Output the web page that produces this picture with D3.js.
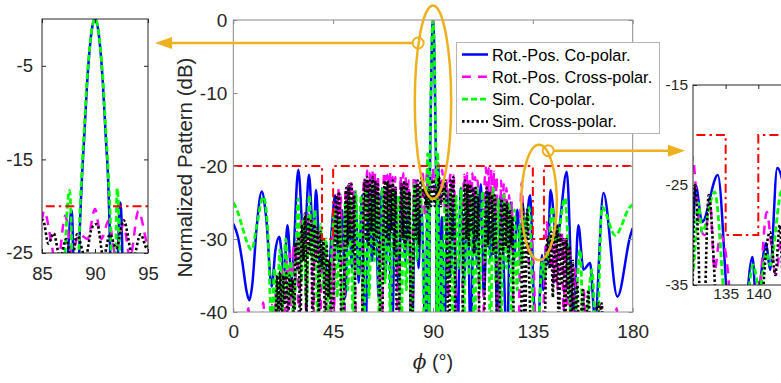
<!DOCTYPE html>
<html>
<head>
<meta charset="utf-8">
<script src="https://d3js.org/d3.v7.min.js"></script>
<style>
  body { margin: 0; background: #fff; }
  svg { font-family: "Liberation Sans", Arial, sans-serif; }
</style>
</head>
<body>
<svg id="chart" width="781" height="383"></svg>
<script>
// ---- data: [phi (deg), normalized pattern (dB)] ----
var rotCo = [[0,-27.9],[2,-29.6],[4,-33],[6,-37.2],[7.2,-38.4],[8.5,-36.4],[10.5,-28.5],[12.8,-23.5],[14.8,-27],[17.3,-36.5],[19,-31.5],[20.7,-29.7],[22.9,-34.7],[24.4,-28.1],[26.3,-35.5],[29.3,-20.5],[31.9,-31.5],[34.1,-21.2],[36.1,-30.1],[37.3,-23.3],[39.1,-33.6],[41,-31.9],[42.8,-36.5],[44.3,-29],[45.9,-24],[47.5,-33],[49,-26],[50.5,-38],[52,-25],[53.5,-34],[55,-23.5],[56.5,-36],[58,-24],[59.5,-45],[61,-23],[62.5,-33],[64,-22.5],[65.5,-38],[67,-23],[68.5,-35],[70,-24],[71.5,-45],[73,-23],[74.5,-37],[76,-22.5],[77.5,-33],[79,-25],[80.5,-45],[82,-22],[83.5,-34],[84.5,-25],[85.5,-31],[86.6,-45],[87.8,-20.4],[88.3,-45],[88.5,-26],[88.75,-17.5],[89,-12.3],[89.25,-7],[89.5,-3.2],[89.75,-0.8],[90,0],[90.25,-0.8],[90.5,-3.2],[90.75,-7],[91,-12.3],[91.25,-17.5],[91.45,-26],[91.65,-45],[92.4,-19.6],[93,-45],[94,-27],[95,-45],[96.5,-24],[98,-35],[99.5,-25],[101,-45],[102.5,-23],[104,-36],[105.5,-24],[107,-45],[108.5,-23],[110,-34],[111.5,-22.5],[113,-38],[114.5,-23],[116,-33],[117.5,-24],[119,-41],[120.5,-24],[122,-35],[123.3,-45],[125,-25],[126.5,-33],[128,-26],[129.5,-33],[130,-28.8],[130.4,-25],[131.4,-28.7],[133.8,-24],[135.4,-38],[137,-45],[139.1,-32.2],[139.7,-37],[141.2,-30.8],[141.8,-33.5],[142.9,-23.3],[145.8,-30],[150.3,-20.8],[153.3,-41],[155.5,-28.1],[157.8,-34.2],[160.8,-33.3],[163,-41],[166.8,-23.7],[173.1,-37.9],[178.8,-29.7],[180,-28.5]];

var rotCross = [[0,-45],[5,-45],[6.8,-39.5],[8.2,-45],[12,-45],[13.5,-38.7],[14.7,-45],[16.5,-45],[17.5,-39],[18.3,-45],[19.2,-37],[20,-45],[20.8,-36],[21.6,-42],[22.4,-34],[23.2,-41],[24,-33],[24.8,-40],[25.6,-32],[26.4,-45],[27.2,-31],[28,-36],[28.8,-29],[29.6,-45],[30.4,-27.5],[31.2,-33],[32,-27],[32.8,-40],[33.6,-26.2],[34.4,-31],[35.2,-27],[36,-45],[36.8,-27.5],[37.6,-32],[38.4,-28.5],[39.2,-42],[40,-31],[40.8,-37],[41.6,-32],[42.4,-45],[43.2,-33],[44,-40],[44.8,-29],[45.4,-40],[46.1,-25],[46.7,-30],[47.3,-23],[47.9,-28],[48.5,-24],[49.2,-45],[50,-45],[50.6,-23],[51.2,-27],[51.8,-22.5],[52.4,-28],[53,-22],[53.6,-29],[54.2,-23],[54.9,-36],[55.6,-45],[57.8,-45],[58.5,-24],[59.1,-21.5],[59.7,-26],[60.3,-20.6],[60.9,-27],[61.5,-21],[62.1,-26],[62.7,-20.5],[63.3,-27],[63.9,-21],[64.5,-26],[65.1,-21.5],[65.8,-30],[66.4,-45],[67,-45],[67.6,-23],[68.2,-20.8],[68.8,-26],[69.4,-21.2],[70,-27],[70.6,-20.7],[71.2,-26],[71.8,-21.5],[72.4,-27],[73,-21.5],[73.7,-33],[74.3,-45],[74.8,-40],[75.4,-21.3],[76,-26],[76.6,-21],[77.2,-27],[77.8,-21.5],[78.4,-26],[79,-22],[79.7,-34],[80.3,-45],[80.8,-33],[81.4,-21.5],[82,-27],[82.6,-22],[83.2,-28],[83.8,-22.5],[84.4,-27],[85.2,-20.5],[85.9,-24],[86.4,-27],[87.2,-21],[87.8,-25],[88.5,-23],[89.3,-23.5],[90,-20.3],[90.6,-23.5],[91.3,-21.5],[91.9,-25],[92.7,-22],[93.3,-25.5],[94.1,-20.5],[94.9,-24],[95.6,-26],[96.3,-22],[96.9,-38],[97.5,-22],[98.1,-21],[98.7,-26],[99.3,-21.3],[99.9,-27],[100.6,-45],[103,-45],[103.6,-24],[104.2,-21.2],[104.8,-26],[105.4,-21],[106,-27],[106.6,-21.5],[107.2,-26],[107.8,-21],[108.4,-28],[109,-21.5],[109.6,-27],[110.2,-22],[110.9,-45],[112.6,-45],[113.3,-22],[113.9,-20.2],[114.5,-25],[115.1,-20.3],[115.7,-26],[116.3,-20.5],[116.9,-25],[117.5,-20.8],[118.1,-27],[118.7,-21.5],[119.4,-45],[120.2,-36],[120.7,-22],[121.3,-27],[121.9,-22.5],[122.5,-28],[123.1,-23],[123.7,-29],[124.3,-24],[124.9,-28],[125.5,-25],[126.2,-40],[126.8,-45],[128.5,-45],[129.3,-28],[130,-22.3],[130.4,-25],[131,-29],[131.8,-30],[132.6,-26.7],[133.3,-33.5],[134.2,-30],[135.4,-34],[136.5,-45],[139,-45],[140.3,-35],[141.3,-27.7],[142,-31],[142.7,-34],[143.6,-30],[144.4,-36],[145.2,-30.5],[146,-37],[147,-30],[148,-28.8],[148.8,-40],[149.8,-30],[150.6,-45],[151.6,-31],[152.6,-45],[154,-34],[155,-45],[157,-45],[158,-37],[159,-45],[163,-45],[165,-38.8],[166.5,-45],[171.5,-45],[172.8,-39.5],[174,-45],[180,-45]];

var simCo = [[0,-25],[2,-26.3],[4,-28.3],[6,-30.3],[8.3,-31.5],[10.5,-28.3],[13.5,-24.2],[15.5,-28.5],[17.3,-42],[18.6,-34],[19.6,-41],[21,-31.5],[22.2,-40],[23.6,-30],[24.8,-38],[26,-33],[27.2,-42],[29.2,-24.5],[30.6,-36],[31.8,-27],[33,-39],[34.2,-24],[35.5,-33],[36.8,-26],[38,-41],[39.3,-28],[40.6,-37],[41.8,-30],[43,-43],[44.4,-31],[45.6,-26],[46.8,-38],[48,-27],[49.2,-45],[50.4,-25],[51.6,-37],[52.8,-24.5],[54,-42],[55.2,-23.5],[56.4,-35],[57.6,-24],[58.8,-45],[60,-23.5],[61.2,-38],[62.4,-23],[63.6,-33],[64.8,-24],[66,-44],[67.2,-23],[68.4,-36],[69.6,-24],[70.8,-41],[72,-23.5],[73.2,-34],[74.4,-24],[75.6,-45],[76.8,-23],[78,-37],[79.2,-24],[80.4,-42],[81.6,-22.5],[82.8,-33],[84,-23],[85.2,-29],[86.3,-45],[87.6,-18.3],[88.25,-45],[88.5,-24],[88.75,-16.5],[89,-11.5],[89.25,-6.5],[89.5,-3],[89.75,-0.75],[90,0],[90.25,-0.75],[90.5,-3],[90.75,-6.5],[91,-11.5],[91.25,-16.5],[91.5,-24],[91.7,-45],[92.1,-18.1],[92.8,-45],[93.7,-30],[94.3,-45],[95.5,-23],[96.7,-36],[97.9,-23.5],[99.1,-45],[100.3,-24],[101.5,-34],[102.7,-23],[103.9,-42],[105.1,-23.5],[106.3,-35],[107.5,-24],[108.7,-45],[109.9,-23],[111.1,-37],[112.3,-23.5],[113.5,-33],[114.7,-24],[115.9,-44],[117.1,-23],[118.3,-36],[119.5,-24.5],[120.7,-41],[121.9,-24],[123.1,-34],[124.3,-25],[125.5,-45],[126.7,-26],[127.9,-37],[129.1,-28],[130,-33.5],[130.8,-26.8],[131.4,-29.7],[133.3,-25.7],[135.2,-40],[136.5,-45],[137.6,-42],[139.2,-33],[140.2,-35.5],[141.2,-31.7],[141.8,-33],[143.6,-25.6],[145.6,-30.5],[149.5,-24.4],[153,-45],[156.3,-31.5],[158,-45],[161.6,-34.2],[163.8,-45],[166.1,-25.6],[172.1,-29.5],[178.8,-25.6],[180,-25.3]];

var simCross = [[0,-45],[17.5,-45],[18.3,-40],[19,-45],[19.7,-35],[20.4,-40],[21.1,-34.5],[21.8,-42],[22.5,-35],[23.2,-39],[23.9,-34.7],[24.6,-45],[25.3,-35],[26,-38],[26.7,-35.5],[27.4,-42],[28.1,-30.5],[28.8,-34],[29.5,-29.7],[30.2,-45],[30.9,-28],[31.6,-33],[32.3,-26.5],[33,-40],[33.7,-27],[34.4,-32],[35.1,-27.5],[35.8,-45],[36.5,-28],[37.2,-33],[37.9,-28.5],[38.6,-41],[39.3,-29],[40,-34],[40.7,-30],[41.4,-45],[42.1,-31],[42.8,-38],[43.5,-33],[44.2,-45],[45.8,-30],[46.4,-24],[47,-31],[47.6,-23.5],[48.2,-30],[48.8,-45],[49.6,-45],[50.3,-28],[50.9,-23],[51.5,-31],[52.1,-22.5],[52.7,-30],[53.3,-22.5],[53.9,-32],[54.5,-24],[55.2,-45],[57.9,-45],[58.6,-27],[59.2,-22],[59.8,-30],[60.4,-21.5],[61,-31],[61.6,-22],[62.2,-29],[62.8,-21.5],[63.4,-32],[64,-22],[64.6,-30],[65.2,-22.5],[65.8,-31],[66.4,-45],[67,-45],[67.7,-27],[68.3,-22],[68.9,-30],[69.5,-22],[70.1,-31],[70.7,-22.5],[71.3,-29],[71.9,-22],[72.5,-32],[73.1,-23],[73.8,-45],[74.5,-45],[75.2,-28],[75.8,-22.5],[76.4,-30],[77,-22],[77.6,-31],[78.2,-22.5],[78.8,-30],[79.4,-23.5],[80.1,-45],[80.6,-45],[81.3,-27],[81.9,-22.5],[82.5,-30],[83.1,-22],[83.7,-31],[84.3,-22.5],[85.1,-21.5],[85.6,-24],[86.1,-22.9],[86.7,-25.5],[87.3,-23.5],[87.8,-26],[88.3,-23],[89.1,-25.5],[89.7,-22.3],[90.2,-21.9],[90.8,-25.5],[91.4,-23],[92,-24.5],[92.7,-21.5],[93.6,-25.5],[94.3,-23],[94.9,-24.5],[95.6,-22],[96.3,-30],[96.9,-45],[97.3,-45],[97.9,-22],[98.5,-30],[99.1,-21.5],[99.7,-29],[100.3,-45],[103.2,-45],[103.8,-27],[104.4,-22],[105,-30],[105.6,-22.5],[106.2,-31],[106.8,-22.5],[107.4,-29],[108,-23],[108.6,-32],[109.2,-23],[109.8,-30],[110.4,-24],[111,-45],[112.9,-45],[113.6,-28],[114.2,-23],[114.8,-31],[115.4,-23.5],[116,-30],[116.6,-24],[117.2,-32],[117.8,-24],[118.4,-30],[119,-45],[119.7,-45],[120.4,-29],[121,-24.5],[121.6,-32],[122.2,-25],[122.8,-31],[123.4,-25],[124,-33],[124.6,-26],[125.2,-31],[125.8,-27],[126.5,-45],[129.6,-45],[130.3,-25],[130.8,-30.8],[131.4,-45],[132.4,-26],[133.8,-40],[134.5,-45],[140.3,-45],[140.8,-35],[141.8,-29.7],[142.6,-34],[143.3,-29],[144,-38],[144.7,-28.5],[145.4,-36],[146,-28],[146.7,-45],[147.4,-29.5],[148.1,-36],[148.8,-30],[149.5,-45],[150.2,-30],[150.9,-38],[151.6,-31],[152.3,-45],[153,-33],[153.7,-45],[155,-36],[156,-45],[157.5,-37],[158.5,-45],[160,-37],[161,-45],[164.5,-38.8],[165.3,-45],[166,-38.8],[167,-45],[180,-45]];

// sidelobe mask (two pieces, gap at the main beam)
var maskLeft = [[0,-20],[40,-20],[40,-30],[45,-30],[45,-20],[88.4,-20]];
var maskRight = [[91.7,-20],[135,-20],[135,-30],[140,-30],[140,-20],[180,-20]];

var mainPhiTicks = [0, 45, 90, 135, 180];
var mainDbTicks = [0, -10, -20, -30, -40];
var leftPhiTicks = [85, 90, 95];
var leftDbTicks = [-5, -15, -25];
var rightPhiTicks = [135, 140];
var rightDbTicks = [-15, -25, -35];

var series = [
  {name: "Rot.-Pos. Co-polar.", data: rotCo, color: "#0000ff", width: 2.5, dash: null},
  {name: "Rot.-Pos. Cross-polar.", data: rotCross, color: "#ff00ff", width: 2.5, dash: "9,7"},
  {name: "Sim. Co-polar.", data: simCo, color: "#00ff00", width: 2.8, dash: "6,3"},
  {name: "Sim. Cross-polar.", data: simCross, color: "#000000", width: 2.6, dash: "2.5,2.3"}
];

var orange = "#EDB120";
var svg = d3.select("#chart");
var fmt = d => String(d);

function drawPanel(cfg) {
  var x = d3.scaleLinear().domain(cfg.xDomain).range([cfg.left, cfg.left + cfg.width]);
  var y = d3.scaleLinear().domain(cfg.yDomain).range([cfg.top + cfg.height, cfg.top]);
  var g = svg.append("g");

  g.append("rect")
    .attr("x", cfg.left).attr("y", cfg.top)
    .attr("width", cfg.width).attr("height", cfg.height)
    .attr("fill", "#fff");

  var clipId = "clip-" + cfg.id;
  g.append("clipPath").attr("id", clipId).append("rect")
    .attr("x", cfg.left).attr("y", cfg.top)
    .attr("width", cfg.width).attr("height", cfg.height);

  var plot = g.append("g").attr("clip-path", "url(#" + clipId + ")");
  var line = d3.line().x(d => x(d[0])).y(d => y(d[1])).curve(d3.curveMonotoneX);
  var straight = d3.line().x(d => x(d[0])).y(d => y(d[1]));

  series.forEach(s => {
    plot.append("path").datum(s.data)
      .attr("d", line)
      .attr("fill", "none")
      .attr("stroke", s.color)
      .attr("stroke-width", s.width)
      .attr("stroke-dasharray", s.dash);
  });

  [maskLeft, maskRight].forEach(m => {
    plot.append("path").datum(m)
      .attr("d", straight)
      .attr("fill", "none")
      .attr("stroke", "#ff0000")
      .attr("stroke-width", 2)
      .attr("stroke-dasharray", "9,4,2.5,4");
  });

  var bottom = cfg.top + cfg.height, right = cfg.left + cfg.width;
  var axes = [
    {axis: d3.axisBottom(x).tickValues(cfg.xTicks).tickFormat(fmt).tickPadding(cfg.xPad), pos: [0, bottom]},
    {axis: d3.axisTop(x).tickValues(cfg.xTicks).tickFormat(() => ""), pos: [0, cfg.top]},
    {axis: d3.axisLeft(y).tickValues(cfg.yTicks).tickFormat(fmt).tickPadding(cfg.yPad), pos: [cfg.left, 0]},
    {axis: d3.axisRight(y).tickValues(cfg.yTicks).tickFormat(() => ""), pos: [right, 0]}
  ];
  axes.forEach(a => {
    var ag = g.append("g")
      .attr("transform", "translate(" + a.pos[0] + "," + a.pos[1] + ")")
      .call(a.axis.tickSizeInner(-cfg.tickLen).tickSizeOuter(0));
    ag.select(".domain").remove();
    ag.selectAll("line").attr("stroke", cfg.frame);
    ag.selectAll("text")
      .attr("fill", "#262626")
      .style("font-family", '"Liberation Sans", Arial, sans-serif')
      .style("font-size", cfg.font + "px");
  });

  g.append("rect")
    .attr("x", cfg.left).attr("y", cfg.top)
    .attr("width", cfg.width).attr("height", cfg.height)
    .attr("fill", "none").attr("stroke", cfg.frame).attr("stroke-width", 1);

  return {x: x, y: y, g: g};
}

// main axes
var main = drawPanel({
  id: "main", left: 233.3, top: 20, width: 399.4, height: 292,
  xDomain: [0, 180], yDomain: [-40, 0],
  xTicks: mainPhiTicks, yTicks: mainDbTicks,
  tickLen: 4, xPad: 13, yPad: 6, font: 19, frame: "#8a8a8a"
});

// left zoom inset (main beam)
var inL = drawPanel({
  id: "left", left: 42, top: 19, width: 106, height: 234,
  xDomain: [85, 95], yDomain: [-25, 0],
  xTicks: leftPhiTicks, yTicks: leftDbTicks,
  tickLen: 4, xPad: 14, yPad: 9, font: 18.5, frame: "#262626"
});

// right zoom inset (notch)
var inR = drawPanel({
  id: "right", left: 693, top: 85, width: 130.6, height: 200,
  xDomain: [130, 150], yDomain: [-35, -15],
  xTicks: rightPhiTicks, yTicks: rightDbTicks,
  tickLen: 4, xPad: 3, yPad: 5, font: 15.5, frame: "#262626"
});

// axis labels
svg.append("text")
  .attr("transform", "translate(192,167.5) rotate(-90)")
  .attr("text-anchor", "middle")
  .attr("fill", "#262626")
  .style("font-size", "20.5px")
  .text("Normalized Pattern (dB)");

var xl = svg.append("text")
  .attr("x", main.x(90)).attr("y", 369)
  .attr("text-anchor", "middle")
  .attr("fill", "#262626")
  .style("font-size", "20px");
xl.append("tspan").style("font-family", '"DejaVu Serif", serif').style("font-style", "italic").text("\u03D5");
xl.append("tspan").text(" (\u00B0)");

// zoom callouts
var callouts = [
  {phi: 90, top: 2, bottom: -24.5, half: 8.2, dot: [83.3, -3.15], side: "left"},
  {phi: 137.8, top: -17.1, bottom: -32.9, half: 8, dot: [141.9, -17.9], side: "right"}
];
callouts.forEach(c => {
  var cx = main.x(c.phi), cyTop = main.y(c.top), cyBot = main.y(c.bottom);
  svg.append("ellipse")
    .attr("cx", cx).attr("cy", (cyTop + cyBot) / 2)
    .attr("rx", main.x(c.phi + c.half) - cx).attr("ry", (cyBot - cyTop) / 2)
    .attr("fill", "none").attr("stroke", orange).attr("stroke-width", 2.5);
  var dx = main.x(c.dot[0]), dy = main.y(c.dot[1]), r = 5.5;
  svg.append("circle").attr("cx", dx).attr("cy", dy).attr("r", r)
    .attr("fill", "none").attr("stroke", orange).attr("stroke-width", 2);
  var tip, start, dir;
  if (c.side === "left") { tip = inL.x(95) + 7; start = dx - r; dir = 1; }
  else { tip = inR.x(130) - 8; start = dx + r; dir = -1; }
  var base = tip + dir * 17;
  svg.append("line")
    .attr("x1", start).attr("y1", dy).attr("x2", base).attr("y2", dy)
    .attr("stroke", orange).attr("stroke-width", 2.5);
  svg.append("path")
    .attr("d", "M" + tip + "," + dy + "L" + base + "," + (dy - 6) + "L" + base + "," + (dy + 6) + "Z")
    .attr("fill", orange);
});

// legend
var legend = svg.append("g");
legend.append("rect")
  .attr("x", 456.5).attr("y", 42.5).attr("width", 203).attr("height", 91)
  .attr("fill", "#fff").attr("stroke", "#b5b5b5").attr("stroke-width", 1);
series.forEach((s, i) => {
  var cy = 54.5 + i * 22.3;
  legend.append("line")
    .attr("x1", 462).attr("x2", 488).attr("y1", cy).attr("y2", cy)
    .attr("stroke", s.color).attr("stroke-width", s.width)
    .attr("stroke-dasharray", s.dash);
  legend.append("text")
    .attr("x", 492).attr("y", cy + 6)
    .attr("fill", "#000")
    .style("font-size", "16.3px")
    .text(s.name);
});
</script>
</body>
</html>
